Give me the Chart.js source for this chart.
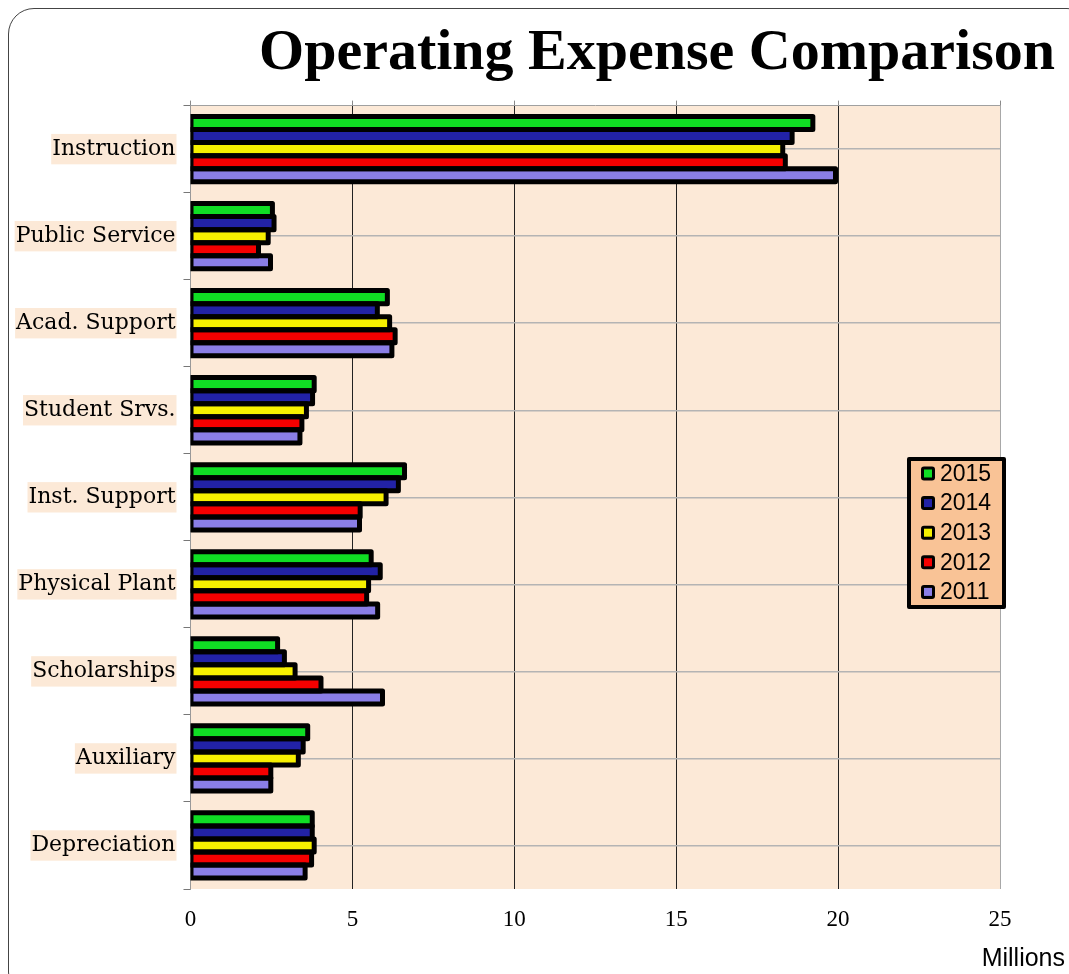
<!DOCTYPE html>
<html>
<head>
<meta charset="utf-8">
<script src="https://cdn.jsdelivr.net/npm/chart.js@4.4.0/dist/chart.umd.min.js"></script>
<style>
  html, body { margin: 0; padding: 0; background: #fff; overflow: hidden; }
  #wrap { position: relative; width: 1069px; height: 974px; }
  #frame {
    position: absolute; left: 8px; top: 8px; width: 1085px; height: 990px;
    border: 1.5px solid #444; border-radius: 26px; box-sizing: border-box;
  }
  #chart { position: absolute; left: 0; top: 0; }
</style>
</head>
<body>
<div id="wrap">
  <div id="frame"></div>
  <canvas id="chart" width="1069" height="974"></canvas>
</div>
<script>
// ================= DATA =================
const categories = ["Instruction", "Public Service", "Acad. Support", "Student Srvs.", "Inst. Support",
                    "Physical Plant", "Scholarships", "Auxiliary", "Depreciation"];
const years = ["2015", "2014", "2013", "2012", "2011"];

// values in millions
const v2015 = [19.22, 2.53, 6.08, 3.82, 6.61, 5.58, 2.69, 3.62, 3.76];
const v2014 = [18.58, 2.58, 5.77, 3.77, 6.42, 5.86, 2.90, 3.48, 3.76];
const v2013 = [18.29, 2.40, 6.15, 3.58, 6.04, 5.50, 3.23, 3.33, 3.82];
const v2012 = [18.37, 2.10, 6.32, 3.44, 5.24, 5.44, 4.03, 2.48, 3.74];
const v2011 = [19.92, 2.47, 6.22, 3.38, 5.22, 5.78, 5.93, 2.48, 3.54];

const xMin = 0;
const xMax = 25;
const xStep = 5;
const unitLabel = "Millions";
const titleText = "Operating Expense Comparison";

const seriesValues = [v2015, v2014, v2013, v2012, v2011];
const seriesColors = ["#10DD24", "#2222A6", "#F6F000", "#F50000", "#8A7EE6"];

const plotBg = "#FCE9D7";


// ================= PLUGINS =================
// peach plot background
const plotBackground = {
  id: "plotBackground",
  beforeDraw(chart) {
    const { ctx, chartArea: a } = chart;
    ctx.save();
    ctx.fillStyle = plotBg;
    ctx.fillRect(a.left, a.top, a.right - a.left, a.bottom - a.top);
    ctx.restore();
  }
};

// thick black outline centred on each bar edge (like the office chart)
const barOutline = {
  id: "barOutline",
  afterDatasetsDraw(chart) {
    const { ctx, chartArea: a } = chart;
    ctx.save();
    ctx.beginPath();
    ctx.rect(a.left, a.top, a.right - a.left, a.bottom - a.top);
    ctx.clip();
    ctx.lineWidth = 5;
    ctx.lineJoin = "round";
    ctx.strokeStyle = "#000";
    chart.getSortedVisibleDatasetMetas().forEach(meta => {
      meta.data.forEach(bar => {
        const { x, y, base, height } = bar.getProps(["x", "y", "base", "height"], true);
        ctx.strokeRect(Math.min(x, base), y - height / 2, Math.abs(x - base), height);
      });
    });
    ctx.restore();
  }
};

// floating boxed legend + "Millions" label
const boxLegend = {
  id: "boxLegend",
  afterDraw(chart) {
    const ctx = chart.ctx;
    ctx.save();

    // box
    ctx.fillStyle = "#F9C396";
    ctx.fillRect(909, 459, 95, 148);
    ctx.lineWidth = 4;
    ctx.lineJoin = "round";
    ctx.strokeStyle = "#000";
    ctx.strokeRect(909, 459, 95, 148);

    ctx.font = "23px 'Liberation Sans', Arial, sans-serif";
    ctx.textBaseline = "middle";
    ctx.textAlign = "left";

    chart.data.datasets.forEach((ds, i) => {
      const y = 473.5 + i * 29.6;
      ctx.fillStyle = "#000";
      ctx.beginPath();
      ctx.roundRect(921, y - 7, 14, 14, 3);
      ctx.fill();
      ctx.fillStyle = ds.backgroundColor;
      ctx.fillRect(924, y - 4, 8, 8);
      ctx.fillStyle = "#000";
      ctx.fillText(ds.label, 940, y + 1);
    });

    // unit label under the axis
    ctx.font = "25px 'Liberation Sans', Arial, sans-serif";
    ctx.textAlign = "right";
    ctx.textBaseline = "alphabetic";
    ctx.fillText(unitLabel, 1065, 966);

    ctx.restore();
  }
};


// ================= CHART =================
const ctx = document.getElementById("chart").getContext("2d");

new Chart(ctx, {
  type: "bar",
  data: {
    labels: categories,
    datasets: years.map((yr, i) => ({
      label: yr,
      data: seriesValues[i],
      backgroundColor: seriesColors[i],
      borderWidth: 0,
      inflateAmount: 0,
      categoryPercentage: 0.75,
      barPercentage: 1.0
    }))
  },
  options: {
    indexAxis: "y",
    responsive: false,
    animation: false,
    layout: {
      padding: { left: 10, right: 14, top: 13, bottom: 0 }
    },
    plugins: {
      legend: { display: false },
      tooltip: { enabled: false },
      title: {
        display: true,
        text: titleText,
        align: "end",
        color: "#000",
        font: { family: "'Liberation Serif', 'Times New Roman', serif", size: 58, weight: "bold", lineHeight: 1.2 },
        padding: { top: 6, bottom: 12 }
      }
    },
    scales: {
      x: {
        type: "linear",
        position: "bottom",
        min: xMin,
        max: xMax,
        ticks: {
          stepSize: xStep,
          padding: 17,
          color: "#000",
          font: { family: "'Liberation Serif', 'Times New Roman', serif", size: 23 }
        },
        grid: {
          drawTicks: false,
          lineWidth: 1,
          color: c => (c.tick && c.tick.value === xMax) ? "#a8a8a8" : "#222"
        },
        border: { display: false },
        afterFit: s => { s.height = 85; }
      },
      xTop: {
        type: "linear",
        position: "top",
        min: xMin,
        max: xMax,
        ticks: { display: false, stepSize: xStep },
        grid: { drawOnChartArea: false, tickLength: 5, color: "#8a8a8a" },
        border: { display: true, color: "#a0a0a0" },
        afterFit: s => { s.height = 5; }
      },
      y: {
        type: "category",
        position: "left",
        offset: true,
        ticks: {
          color: "#000",
          padding: 8,
          font: { family: "'DejaVu Serif', serif", size: 22, lineHeight: 1.2 },
          showLabelBackdrop: true,
          backdropColor: plotBg,
          backdropPadding: { top: 2, bottom: 2, left: 1, right: 1 }
        },
        grid: { offset: true, drawOnChartArea: false, tickLength: 7, color: "#777" },
        border: { display: true, color: "#999" },
        afterFit: s => { s.width = 180.5; }
      },
      yCenter: {
        type: "category",
        position: "left",
        offset: true,
        ticks: { display: false },
        grid: { offset: false, drawTicks: false, color: "#b4b4b4", lineWidth: 1.5 },
        border: { display: false },
        afterFit: s => { s.width = 0; }
      },
      padRight: {
        type: "linear",
        position: "right",
        ticks: { display: false },
        grid: { display: false },
        border: { display: false },
        afterFit: s => { s.width = 55; }
      }
    }
  },
  plugins: [plotBackground, barOutline, boxLegend]
});
</script>
</body>
</html>
